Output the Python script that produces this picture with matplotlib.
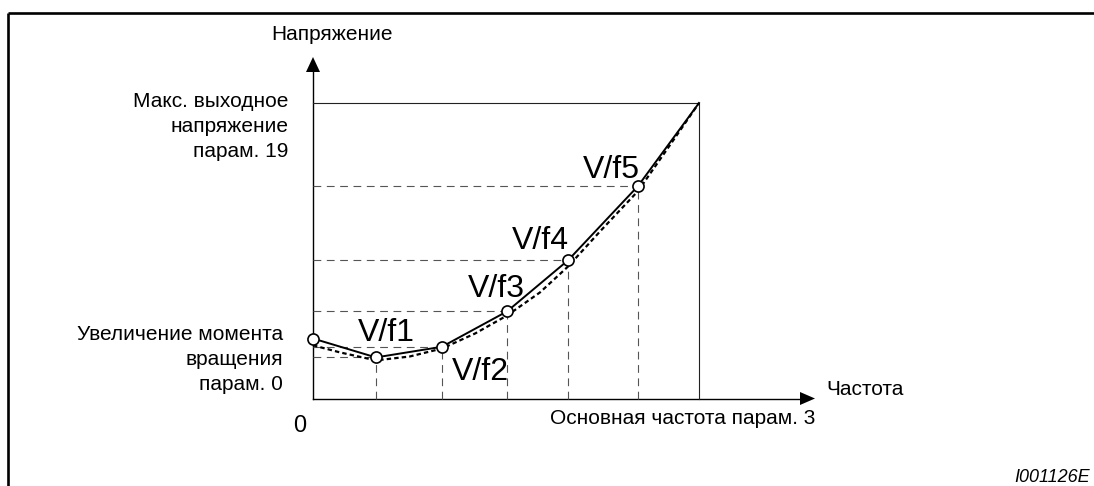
import matplotlib
matplotlib.use("Agg")
import matplotlib.pyplot as plt

plt.rcParams['font.family'] = ['Liberation Sans', 'DejaVu Sans']

# V/f characteristic: frequency and voltage in % of base frequency / max voltage
freq = [0, 16.3, 33.4, 50.3, 66.1, 84.2, 100]
volt = [20.3, 13.9, 17.5, 29.5, 46.8, 71.9, 100]
point_labels = ['V/f1', 'V/f2', 'V/f3', 'V/f4', 'V/f5']

# ideal (smooth) characteristic drawn dotted under the broken line
curve_f = [0, 7, 16.3, 25, 33.4, 42, 50.3, 58.8, 66.1, 74.4, 84.2, 92.5, 100]
curve_v = [18, 15.6, 12.9, 14.2, 16.9, 22, 28.1, 35.9, 44.7, 56.6, 70.2, 85.8, 100]

W, H = 1094, 486
# pixel position of the origin and of (100 %, 100 %)
X0, X1 = 313, 699
Y0, Y1 = 398.5, 103


def fx(px): return (px - X0) / (X1 - X0) * 100


def fy(py): return (Y0 - py) / (Y0 - Y1) * 100


fig = plt.figure(figsize=(W / 100, H / 100), dpi=100)
ax = fig.add_axes([0, 0, 1, 1])
ax.set_xlim(fx(0), fx(W))
ax.set_ylim(fy(H), fy(0))
ax.axis('off')

# open frame (top and left)
ax.plot([fx(8), fx(W)], [fy(13.5), fy(13.5)], color='black', lw=1.9, solid_capstyle='butt')
ax.plot([fx(8), fx(8)], [fy(13.5), fy(H)], color='black', lw=1.9, solid_capstyle='butt')

# axes with arrow heads
ax.plot([0, 0], [0, fy(72)], color='black', lw=1.0)
ax.fill([fx(306), fx(320), 0], [fy(72), fy(72), fy(57)], color='black', lw=0)
ax.plot([0, fx(800)], [0, 0], color='black', lw=1.0)
ax.fill([fx(800), fx(800), fx(815)], [fy(392), fy(405), 0], color='black', lw=0)

# max voltage / base frequency box
ax.plot([0, freq[-1], freq[-1]], [volt[-1], volt[-1], 0], color='#222222', lw=0.8)

# guide lines to each V/f point
guide = dict(color='#555555', lw=0.8, dashes=(7, 5))
for f, v in zip(freq[1:-1], volt[1:-1]):
    ax.plot([0, f], [v, v], **guide)
    ax.plot([f, f], [0, v], **guide)

ax.plot(curve_f, curve_v, color='black', lw=1.6, dashes=(2.0, 1.4), zorder=3)
ax.plot(freq, volt, color='black', lw=1.4, zorder=4)
ax.plot(freq[:-1], volt[:-1], 'o', ms=8, mfc='white', mec='black', mew=1.2, zorder=5)

# point labels (left edge, baseline)
label_pos = [(358, 341), (452, 380), (468, 297), (512, 249), (583, 178)]
for lab, (px, py) in zip(point_labels, label_pos):
    ax.text(fx(px), fy(py), lab, fontsize=23, ha='left', va='baseline')

txt = dict(fontsize=15, va='baseline')
ax.text(fx(271), fy(40), 'Напряжение', ha='left', **txt)
for line, py in zip(['Макс. выходное', 'напряжение', 'парам. 19'], [107, 132, 157]):
    ax.text(fx(288), fy(py), line, ha='right', **txt)
for line, py in zip(['Увеличение момента', 'вращения', 'парам. 0'], [340, 365, 390]):
    ax.text(fx(283), fy(py), line, ha='right', **txt)
ax.text(fx(826), fy(395), 'Частота', ha='left', **txt)
ax.text(fx(815), fy(424), 'Основная частота парам. 3', ha='right', **txt)
ax.text(fx(300), fy(432), '0', fontsize=17, ha='center', va='baseline')
ax.text(fx(1090), fy(482), 'I001126E', fontsize=13, style='italic', ha='right', va='baseline')

fig.savefig('out.png', dpi=100)
